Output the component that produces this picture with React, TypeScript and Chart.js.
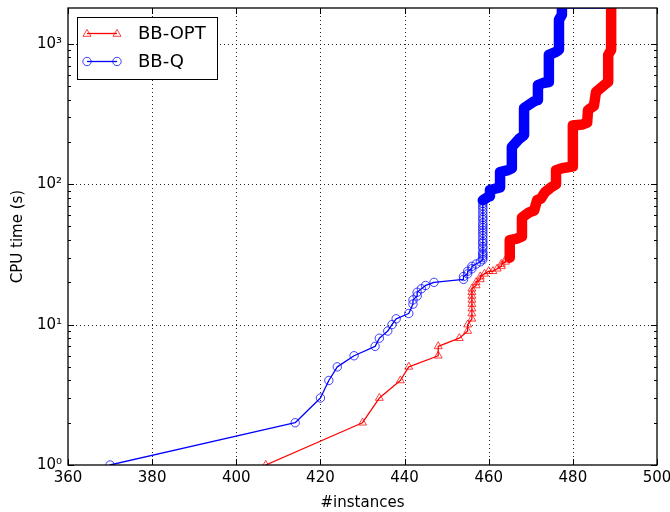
import { useEffect, useRef } from 'react';
import { Chart, registerables } from 'chart.js';

Chart.register(...registerables);

// ---- axis / label content ----
const X_TICKS = [360, 380, 400, 420, 440, 460, 480, 500];
const Y_DECADES = [1, 10, 100, 1000];
const Y_MIN = 1;
const Y_MAX = 1800;
const SERIES_NAMES = ['BB-OPT', 'BB-Q'];
const X_LABEL = '#instances';
const Y_LABEL = 'CPU time (s)';

// ---- BB-OPT (red, triangles): #instances solved vs CPU time ----
const optX = [
  407, 430, 434, 439, 441, 448, 448, 453, 455, 455,
  456, 456, 456, 456, 456, 456, 456, 456, 457, 457,
  458, 458, 459, 460, 461, 462, 463, 463, 464, 464,
  465, 465, 466.7, 467.9, 467.9, 469.6, 470.8, 471.5, 472.4, 473.4,
  474.8, 476, 476, 477.4, 478.8, 480, 480, 482.2, 483.4, 483.6,
  485, 485.5, 487.2, 488.4, 488.4, 489.1, 489.1,
];
const optY = [
  1, 2, 3, 4, 5, 6, 7, 8, 9, 10,
  11, 12, 13, 14, 15, 16, 17, 18, 19, 20,
  21, 22, 23, 24, 24, 25, 26, 27, 28, 29,
  30, 40, 41, 42.5, 58, 63, 65, 77, 79, 88,
  95, 100, 126, 130, 132, 134, 262, 266, 275, 338,
  361, 454, 501, 535, 835, 906, 1800,
];

// ---- BB-Q (blue, circles) ----
const qX = [
  370, 414, 420, 422, 424, 428, 433, 434, 436, 437,
  438, 441, 442, 442, 443, 443, 444, 445, 447, 454,
  454, 455, 455, 456, 456, 457, 458,
  458.6, 458.6, 458.6, 458.6, 458.6, 458.6, 458.6, 458.6, 458.6, 458.6,
  458.6, 458.6, 458.6, 458.6, 458.6, 458.6, 458.6, 458.6, 458.6, 458.6,
  458.6, 458.6, 458.6, 458.6,
  460.1, 460.3, 462.7, 462.7, 464.6, 465.5, 465.5, 467.2, 468.4, 468.4,
  470.5, 471.5, 471.7, 472.9, 474.3, 474.3, 476, 476.7, 476.7, 477.4,
  477.4, 489,
];
const qY = [
  1, 2, 3, 4, 5, 6, 7, 8, 9, 10,
  11, 12, 14, 15, 16, 17, 18, 19, 20, 21,
  22, 23, 24, 25, 26, 27, 28,
  29, 30, 31, 32, 33, 35, 36, 38, 39, 41,
  43, 45, 47, 49, 51, 53, 56, 58, 61, 64,
  67, 70, 73, 77,
  82, 91, 95, 122, 126, 130, 184, 210, 224, 349,
  385, 398, 509, 526, 535, 835, 877, 906, 1484, 1610,
  1800, 1800,
];

// ---- styling constants ----
const OPT_BAND_FROM = 30;
const Q_BAND_FROM = 50;
const Q_BAND_TO = 71;
const LINE_W = 1.3;
const BAND_W = 10.5;
const RED = 'rgb(255,0,0)';
const RED_M = 'rgba(255,0,0,0.75)';
const BLUE = 'rgb(0,0,255)';
const BLUE_M = 'rgba(0,0,255,0.75)';
const FONT = 'DejaVu Sans';
const SUP = ['\u2070', '\u00b9', '\u00b2', '\u00b3', '\u2074'];

function drawTri(ctx: CanvasRenderingContext2D, x: number, y: number, r: number) {
  ctx.beginPath();
  for (let k = 0; k < 3; k++) {
    const a = (k * 2 * Math.PI) / 3;
    const px = x + Math.sin(a) * r;
    const py = y - Math.cos(a) * r;
    if (k === 0) ctx.moveTo(px, py);
    else ctx.lineTo(px, py);
  }
  ctx.closePath();
  ctx.stroke();
}
function drawCirc(ctx: CanvasRenderingContext2D, x: number, y: number, r: number) {
  ctx.beginPath();
  ctx.arc(x, y, r, 0, Math.PI * 2);
  ctx.stroke();
}

const mplPlugin = {
  id: 'mplAxes',
  beforeDatasetsDraw(chart: any) {
    const { ctx, chartArea: a, scales } = chart;
    const xs = scales.x;
    const ys = scales.y;
    ctx.save();
    ctx.beginPath();
    ctx.strokeStyle = 'rgba(0,0,0,0.85)';
    ctx.lineWidth = 1;
    ctx.setLineDash([1, 3]);
    for (const v of X_TICKS) {
      const p = Math.round(xs.getPixelForValue(v)) + 0.5;
      if (p <= a.left + 2 || p >= a.right - 2) continue;
      ctx.moveTo(p, a.top);
      ctx.lineTo(p, a.bottom);
    }
    for (const v of Y_DECADES) {
      const p = Math.round(ys.getPixelForValue(v)) + 0.5;
      if (p <= a.top + 2 || p >= a.bottom - 2) continue;
      ctx.moveTo(a.left, p);
      ctx.lineTo(a.right, p);
    }
    ctx.stroke();
    ctx.restore();
  },
  afterDatasetsDraw(chart: any) {
    const { ctx, chartArea: a, scales } = chart;
    const xs = scales.x;
    const ys = scales.y;
    ctx.save();
    ctx.setLineDash([]);
    ctx.strokeStyle = '#000';
    ctx.lineWidth = 1;
    ctx.beginPath();
    for (const v of X_TICKS) {
      const p = Math.round(xs.getPixelForValue(v)) + 0.5;
      ctx.moveTo(p, a.bottom);
      ctx.lineTo(p, a.bottom - 6);
      ctx.moveTo(p, a.top);
      ctx.lineTo(p, a.top + 6);
    }
    for (const d of Y_DECADES) {
      for (let m = 1; m <= 9; m++) {
        const v = d * m;
        if (v < Y_MIN || v > Y_MAX) continue;
        const len = m === 1 ? 6 : 3;
        const p = Math.round(ys.getPixelForValue(v)) + 0.5;
        ctx.moveTo(a.left, p);
        ctx.lineTo(a.left + len, p);
        ctx.moveTo(a.right, p);
        ctx.lineTo(a.right - len, p);
      }
    }
    ctx.stroke();
    ctx.lineWidth = 1.3;
    ctx.strokeRect(a.left, a.top, a.right - a.left, a.bottom - a.top);
    ctx.restore();
  },
  afterDraw(chart: any) {
    const { ctx, chartArea: a } = chart;
    ctx.save();
    const bx = a.left + 9.5;
    const by = a.top + 9.5;
    ctx.fillStyle = '#fff';
    ctx.fillRect(bx, by, 140, 62);
    ctx.strokeStyle = '#000';
    ctx.lineWidth = 1;
    ctx.strokeRect(bx, by, 140, 62);
    const entries = [
      { name: SERIES_NAMES[0], line: RED, mark: RED_M, tri: true, y: by + 16 },
      { name: SERIES_NAMES[1], line: BLUE, mark: BLUE_M, tri: false, y: by + 44 },
    ];
    for (const e of entries) {
      ctx.strokeStyle = e.line;
      ctx.lineWidth = LINE_W;
      ctx.beginPath();
      ctx.moveTo(bx + 9.5, e.y);
      ctx.lineTo(bx + 39.5, e.y);
      ctx.stroke();
      ctx.strokeStyle = e.mark;
      ctx.lineWidth = 1;
      for (const mx of [bx + 9.5, bx + 39.5]) {
        if (e.tri) drawTri(ctx, mx, e.y + 0.5, 4.6);
        else drawCirc(ctx, mx, e.y, 4.2);
      }
      ctx.fillStyle = '#000';
      ctx.font = `18px "${FONT}"`;
      ctx.textBaseline = 'middle';
      ctx.textAlign = 'left';
      ctx.fillText(e.name, bx + 60.5, e.y + 1);
    }
    ctx.restore();
  },
};

export default function App() {
  const ref = useRef<HTMLCanvasElement | null>(null);
  useEffect(() => {
    if (!ref.current) return;
    const tickFont = { family: FONT, size: 15 };
    const chart = new Chart(ref.current, {
      type: 'line',
      data: {
        datasets: [
          {
            label: SERIES_NAMES[0],
            data: optX.map((x, i) => ({ x, y: optY[i] })),
            borderColor: RED,
            borderWidth: LINE_W,
            borderJoinStyle: 'round',
            borderCapStyle: 'round',
            pointStyle: 'triangle',
            pointRadius: 4.6,
            pointBorderWidth: 1,
            pointBorderColor: RED_M,
            pointBackgroundColor: 'rgba(0,0,0,0)',
            fill: false,
            tension: 0,
            clip: 0,
            segment: {
              borderWidth: (c: any) => (c.p0DataIndex >= OPT_BAND_FROM ? BAND_W : LINE_W),
            },
          } as any,
          {
            label: SERIES_NAMES[1],
            data: qX.map((x, i) => ({ x, y: qY[i] })),
            borderColor: BLUE,
            borderWidth: LINE_W,
            borderJoinStyle: 'round',
            borderCapStyle: 'round',
            pointStyle: 'circle',
            pointRadius: 4.2,
            pointBorderWidth: 1,
            pointBorderColor: BLUE_M,
            pointBackgroundColor: 'rgba(0,0,0,0)',
            fill: false,
            tension: 0,
            clip: 0,
            segment: {
              borderWidth: (c: any) =>
                c.p0DataIndex >= Q_BAND_FROM && c.p1DataIndex <= Q_BAND_TO ? BAND_W : LINE_W,
            },
          } as any,
        ],
      },
      options: {
        animation: false,
        responsive: false,
        maintainAspectRatio: false,
        layout: { autoPadding: false, padding: { top: 8, right: 13, left: 0, bottom: 0 } },
        plugins: { legend: { display: false }, tooltip: { enabled: false } },
        scales: {
          x: {
            type: 'linear',
            min: X_TICKS[0],
            max: X_TICKS[X_TICKS.length - 1],
            afterBuildTicks: (s: any) => {
              s.ticks = X_TICKS.map((v) => ({ value: v }));
            },
            afterFit: (s: any) => {
              s.height = 47;
              s.paddingLeft = 0;
              s.paddingRight = 0;
            },
            grid: { display: false, drawTicks: false },
            border: { display: false },
            ticks: {
              font: tickFont,
              color: '#000',
              padding: 4,
              maxRotation: 0,
              autoSkip: false,
              callback: (v: any) => String(v),
            },
            title: {
              display: true,
              text: X_LABEL,
              font: tickFont,
              color: '#000',
              padding: { top: 0, bottom: 0 },
            },
          },
          y: {
            type: 'logarithmic',
            min: Y_MIN,
            max: Y_MAX,
            afterBuildTicks: (s: any) => {
              s.ticks = Y_DECADES.map((v) => ({ value: v, major: true }));
            },
            afterFit: (s: any) => {
              s.width = 68;
              s.paddingTop = 0;
              s.paddingBottom = 0;
            },
            grid: { display: false, drawTicks: false },
            border: { display: false },
            ticks: {
              font: tickFont,
              color: '#000',
              padding: 6,
              autoSkip: false,
              callback: (v: any) => '10' + SUP[Math.round(Math.log10(Number(v)))],
            },
            title: {
              display: true,
              text: Y_LABEL,
              font: tickFont,
              color: '#000',
              padding: { top: 9, bottom: 0 },
            },
          },
        },
      } as any,
      plugins: [mplPlugin],
    });
    return () => chart.destroy();
  }, []);

  return (
    <div style={{ position: 'absolute', left: 0, top: 0, width: 670, height: 512, background: '#fff' }}>
      <canvas ref={ref} width={670} height={512} style={{ width: 670, height: 512, display: 'block' }} />
    </div>
  );
}
